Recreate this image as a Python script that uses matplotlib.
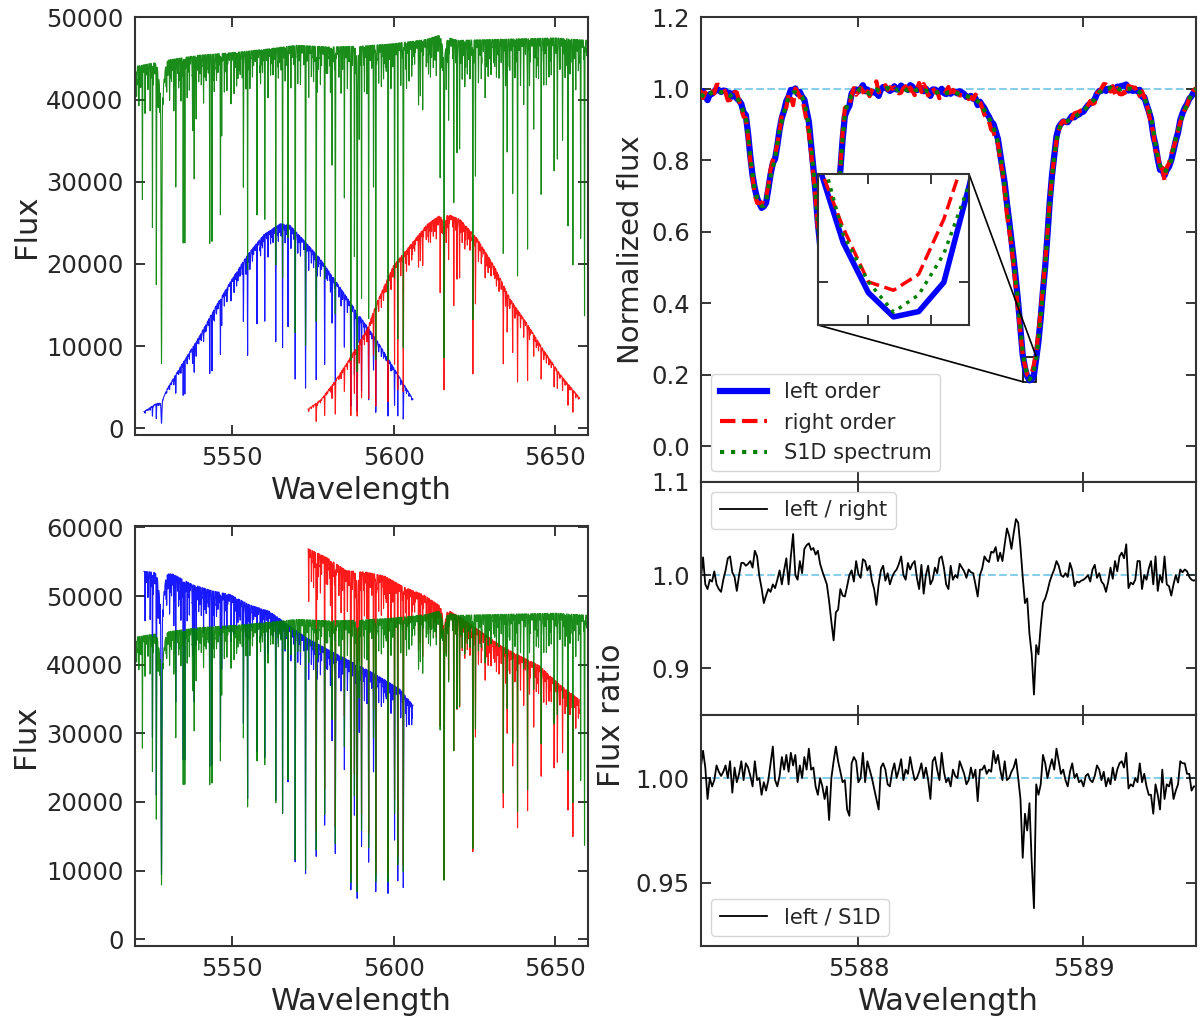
import numpy as np
import matplotlib
matplotlib.use("Agg")
import matplotlib.pyplot as plt
from matplotlib.ticker import MultipleLocator, NullFormatter, FormatStrFormatter
from mpl_toolkits.axes_grid1.inset_locator import mark_inset

plt.rcParams['font.family'] = ['DejaVu Sans']
plt.rcParams['text.color'] = '#262626'
plt.rcParams['axes.labelcolor'] = '#262626'
plt.rcParams['xtick.color'] = '#262626'
plt.rcParams['ytick.color'] = '#262626'
plt.rcParams['axes.edgecolor'] = '#333333'
plt.rcParams['axes.linewidth'] = 1.5

# ---------------- data: full spectra (left panels) ----------------
# strong absorption lines: centre, minimum flux (fraction of continuum), width
line_center = [5520.1, 5522.4, 5525.5, 5526.7, 5528.3, 5528.3, 5532.1, 5532.7, 5535.0, 5535.5,
               5537.9, 5538.4, 5539.0, 5543.2, 5543.9, 5546.5, 5546.9, 5549.8, 5551.9, 5553.6,
               5554.4, 5554.9, 5557.8, 5560.2, 5563.6, 5565.7, 5567.4, 5569.6, 5572.8, 5576.1,
               5576.4, 5578.7, 5581.0, 5582.0, 5584.8, 5586.8, 5587.9, 5588.75, 5588.75, 5589.4,
               5590.1, 5592.3, 5593.8, 5594.5, 5598.3, 5600.3, 5601.3, 5603.0, 5607.7, 5609.0,
               5611.4, 5614.4, 5615.6, 5615.6, 5617.0, 5618.6, 5619.6, 5620.4, 5624.5, 5625.3,
               5628.3, 5631.8, 5633.9, 5635.1, 5636.8, 5638.3, 5640.2, 5641.4, 5643.3, 5645.6,
               5649.6, 5650.6, 5652.2, 5653.9, 5655.4, 5657.8, 5659.0]
line_min = [0.93, 0.63, 0.55, 0.40, 0.20, 0.90, 0.86, 0.66, 0.50, 0.50,
            0.80, 0.67, 0.83, 0.50, 0.50, 0.57, 0.78, 0.90, 0.93, 0.64,
            0.90, 0.42, 0.58, 0.57, 0.43, 0.40, 0.50, 0.25, 0.22, 0.28,
            0.88, 0.40, 0.69, 0.30, 0.61, 0.18, 0.45, 0.16, 0.95, 0.76,
            0.34, 0.29, 0.64, 0.18, 0.18, 0.40, 0.24, 0.21, 0.86, 0.82,
            0.90, 0.64, 0.19, 0.95, 0.79, 0.58, 0.71, 0.72, 0.28, 0.66,
            0.86, 0.92, 0.45, 0.71, 0.62, 0.40, 0.84, 0.46, 0.78, 0.60,
            0.66, 0.69, 0.76, 0.52, 0.42, 0.50, 0.29]
line_width = [0.20, 0.05, 0.05, 0.05, 0.12, 0.70, 0.05, 0.05, 0.05, 0.05,
              0.05, 0.05, 0.05, 0.05, 0.05, 0.05, 0.05, 0.05, 0.05, 0.05,
              0.05, 0.05, 0.05, 0.05, 0.05, 0.05, 0.05, 0.06, 0.06, 0.06,
              0.05, 0.05, 0.05, 0.06, 0.05, 0.07, 0.05, 0.08, 0.30, 0.05,
              0.05, 0.05, 0.05, 0.06, 0.06, 0.05, 0.05, 0.06, 0.05, 0.05,
              0.05, 0.05, 0.08, 0.50, 0.05, 0.05, 0.05, 0.05, 0.06, 0.05,
              0.05, 0.05, 0.05, 0.05, 0.05, 0.05, 0.05, 0.05, 0.05, 0.05,
              0.05, 0.05, 0.05, 0.05, 0.05, 0.05, 0.06]
# weaker lines: centre, depth
weak_center = [5520.6, 5521.3, 5521.9, 5523.2, 5524.1, 5524.8, 5527.3, 5529.9, 5530.8, 5531.4,
               5533.6, 5534.3, 5536.2, 5536.9, 5539.8, 5540.6, 5541.3, 5542.1, 5544.6, 5545.3,
               5547.7, 5548.5, 5550.7, 5551.5, 5552.6, 5555.6, 5556.4, 5558.9, 5559.5, 5561.2,
               5562.0, 5564.4, 5566.5, 5568.3, 5570.4, 5571.2, 5573.8, 5574.6, 5575.3, 5577.4,
               5579.6, 5580.5, 5583.1, 5583.8, 5585.7, 5591.0, 5591.8, 5595.4, 5596.2, 5596.9,
               5597.6, 5599.2, 5602.2, 5604.0, 5604.8, 5605.6, 5606.5, 5608.3, 5610.1, 5610.8,
               5612.3, 5613.2, 5616.3, 5621.2, 5622.0, 5622.8, 5623.6, 5626.2, 5627.1, 5629.2,
               5630.1, 5630.9, 5632.6, 5634.6, 5635.9, 5637.5, 5639.2, 5642.0, 5644.1, 5644.8,
               5646.4, 5647.2, 5648.0, 5648.7, 5651.4, 5653.0, 5654.5, 5656.3, 5657.1]
weak_depth = [0.08, 0.10, 0.06, 0.09, 0.07, 0.12, 0.06, 0.08, 0.10, 0.06,
              0.08, 0.10, 0.07, 0.09, 0.06, 0.08, 0.12, 0.07, 0.10, 0.06,
              0.08, 0.10, 0.07, 0.09, 0.06, 0.10, 0.07, 0.09, 0.06, 0.10,
              0.07, 0.08, 0.09, 0.07, 0.10, 0.06, 0.09, 0.08, 0.06, 0.10,
              0.07, 0.12, 0.08, 0.10, 0.06, 0.12, 0.08, 0.10, 0.07, 0.09,
              0.06, 0.10, 0.08, 0.12, 0.07, 0.09, 0.06, 0.10, 0.07, 0.08,
              0.06, 0.09, 0.10, 0.09, 0.12, 0.07, 0.10, 0.08, 0.10, 0.07,
              0.09, 0.06, 0.10, 0.12, 0.08, 0.10, 0.09, 0.12, 0.10, 0.08,
              0.12, 0.09, 0.10, 0.07, 0.08, 0.10, 0.09, 0.12, 0.08]
# faint blends every 0.5 A from 5520.25 A (depths)
blend_start, blend_step = 5520.25, 0.5
blend_depth = [
    0.03, 0.05, 0.02, 0.06, 0.04, 0.02, 0.07, 0.03, 0.05, 0.02, 0.04, 0.06, 0.03, 0.02, 0.05, 0.07, 0.03, 0.04, 0.02, 0.06,
    0.04, 0.02, 0.05, 0.03, 0.07, 0.02, 0.04, 0.06, 0.03, 0.05, 0.02, 0.03, 0.06, 0.04, 0.02, 0.05, 0.03, 0.07, 0.04, 0.02,
    0.05, 0.03, 0.02, 0.06, 0.04, 0.05, 0.02, 0.03, 0.07, 0.04, 0.02, 0.05, 0.03, 0.06, 0.02, 0.04, 0.05, 0.03, 0.02, 0.06,
    0.02, 0.06, 0.04, 0.03, 0.05, 0.02, 0.07, 0.04, 0.03, 0.02, 0.05, 0.06, 0.02, 0.04, 0.03, 0.05, 0.02, 0.06, 0.04, 0.03,
    0.06, 0.03, 0.05, 0.02, 0.04, 0.07, 0.03, 0.02, 0.05, 0.04, 0.06, 0.02, 0.03, 0.05, 0.04, 0.02, 0.06, 0.03, 0.05, 0.02,
    0.03, 0.04, 0.06, 0.02, 0.05, 0.03, 0.04, 0.07, 0.02, 0.03, 0.05, 0.04, 0.02, 0.06, 0.03, 0.05, 0.02, 0.04, 0.07, 0.03,
    0.05, 0.02, 0.04, 0.06, 0.03, 0.02, 0.05, 0.04, 0.06, 0.02, 0.03, 0.07, 0.04, 0.02, 0.05, 0.03, 0.06, 0.02, 0.04, 0.05,
    0.02, 0.05, 0.03, 0.07, 0.02, 0.04, 0.06, 0.03, 0.02, 0.05, 0.04, 0.02, 0.06, 0.03, 0.05, 0.07, 0.02, 0.04, 0.03, 0.06,
    0.04, 0.03, 0.06, 0.02, 0.05, 0.04, 0.02, 0.07, 0.03, 0.05, 0.02, 0.06, 0.04, 0.03, 0.02, 0.05, 0.07, 0.03, 0.04, 0.02,
    0.06, 0.02, 0.04, 0.05, 0.03, 0.06, 0.02, 0.04, 0.03, 0.07, 0.05, 0.02, 0.03, 0.06, 0.04, 0.02, 0.05, 0.03, 0.06, 0.04,
    0.03, 0.06, 0.02, 0.04, 0.07, 0.03, 0.05, 0.02, 0.04, 0.06, 0.03, 0.02, 0.05, 0.04, 0.06, 0.03, 0.02, 0.07, 0.04, 0.05,
    0.05, 0.02, 0.07, 0.03, 0.04, 0.02, 0.06, 0.05, 0.03, 0.02, 0.04, 0.07, 0.03, 0.05, 0.02, 0.06, 0.04, 0.03, 0.05, 0.02,
    0.02, 0.04, 0.05, 0.03, 0.06, 0.02, 0.03, 0.05, 0.07, 0.04, 0.02, 0.06, 0.03, 0.04, 0.05, 0.02, 0.06, 0.04, 0.02, 0.05,
    0.04, 0.06, 0.03, 0.02, 0.05, 0.04, 0.07, 0.02, 0.03, 0.06, 0.04, 0.05, 0.02, 0.03, 0.06, 0.04, 0.02, 0.05, 0.03, 0.04]

# continuum levels
s1d_cont_wl = [5520, 5530, 5540, 5550, 5560, 5570, 5580, 5590, 5600, 5610, 5614, 5620, 5630, 5640, 5650, 5660]
s1d_cont = [44000, 44800, 45400, 45700, 46100, 46600, 46400, 46500, 46800, 47300, 47800, 47200, 47300, 47400, 47500, 47200]

left_raw_wl = [5522.9, 5526, 5528, 5530, 5535, 5540, 5545, 5550, 5555, 5560, 5565, 5568, 5572, 5577,
               5582, 5587, 5590, 5592, 5595, 5600, 5606.0]
left_raw = [2050, 2850, 3350, 4800, 8050, 11200, 14800, 18100, 21200, 23600, 24900, 24700, 23000, 20800,
            18000, 15100, 13400, 12300, 10600, 7400, 3550]
right_raw_wl = [5573.6, 5577.7, 5581.8, 5585.9, 5590, 5592, 5594.8, 5600, 5605.2, 5610.3, 5613.9, 5616.5,
                5620.6, 5625.8, 5631, 5636.1, 5641.3, 5646.4, 5651.6, 5657.4]
right_raw = [2350, 3550, 5700, 8150, 10900, 12200, 15300, 19800, 22300, 24800, 25800, 26100,
             25400, 23100, 19800, 15700, 12700, 9500, 6500, 3750]

left_corr_wl = [5522.9, 5531.8, 5537.7, 5543.7, 5549.6, 5555.6, 5561.5, 5567.5, 5573.5, 5579.4,
                5585.4, 5591.3, 5597.3, 5602.0, 5606.0]
left_corr = [53600, 53200, 51700, 50800, 50200, 48700, 47800, 45800, 43800, 42300,
             40800, 39400, 37800, 36400, 34100]
right_corr_wl = [5573.6, 5579.4, 5585.4, 5591.3, 5597.3, 5603.2, 5609.2, 5613.9, 5621.1, 5627.0,
                 5633.0, 5638.9, 5644.9, 5650.8, 5657.4]
right_corr = [56900, 55600, 53700, 53500, 52900, 51300, 50200, 48700, 46800, 44800,
              42800, 41300, 39900, 37300, 34900]

# ---------------- data: zoom around 5588 A (right panels) ----------------
zoom_start, zoom_step = 5587.30, 0.01
s1d_norm = [
    0.985, 0.980, 0.975, 0.978, 0.985, 0.990, 0.992, 0.995, 0.993, 0.990,
    0.992, 0.988, 0.985, 0.980, 0.985, 0.984, 0.975, 0.965, 0.950, 0.935,
    0.920, 0.870, 0.810, 0.760, 0.715, 0.695, 0.680, 0.672, 0.672, 0.685,
    0.720, 0.755, 0.780, 0.805, 0.845, 0.885, 0.910, 0.935, 0.955, 0.975,
    0.985, 0.990, 0.990, 0.988, 0.985, 0.978, 0.960, 0.935, 0.895, 0.840,
    0.775, 0.710, 0.630, 0.560, 0.500, 0.460, 0.440, 0.450, 0.490, 0.560,
    0.640, 0.710, 0.770, 0.860, 0.925, 0.955, 0.970, 0.980, 0.985, 0.990,
    0.995, 1.000, 0.998, 0.995, 0.990, 0.985, 0.990, 0.995, 0.998, 0.995,
    0.993, 0.998, 1.000, 1.002, 0.998, 0.995, 1.000, 0.998, 0.995, 1.000,
    1.003, 0.998, 0.995, 1.000, 1.002, 0.998, 0.996, 0.998, 0.995, 0.993,
    0.995, 0.992, 0.990, 0.990, 0.988, 0.990, 0.992, 0.988, 0.985, 0.987,
    0.990, 0.990, 0.988, 0.990, 0.987, 0.985, 0.985, 0.983, 0.980, 0.978,
    0.975, 0.972, 0.970, 0.965, 0.960, 0.950, 0.940, 0.930, 0.918, 0.905,
    0.890, 0.875, 0.850, 0.815, 0.780, 0.730, 0.680, 0.630, 0.575, 0.520,
    0.460, 0.400, 0.330, 0.265, 0.222, 0.200, 0.186, 0.194, 0.213, 0.245,
    0.295, 0.360, 0.430, 0.500, 0.590, 0.680, 0.750, 0.810, 0.855, 0.885,
    0.900, 0.905, 0.908, 0.910, 0.913, 0.918, 0.920, 0.925, 0.930, 0.935,
    0.940, 0.945, 0.952, 0.960, 0.965, 0.970, 0.980, 0.990, 0.995, 1.000,
    0.998, 1.000, 1.003, 0.998, 1.000, 1.002, 0.998, 1.000, 1.004, 1.000,
    1.000, 1.000, 0.998, 0.998, 0.995, 0.990, 0.980, 0.975, 0.960, 0.945,
    0.923, 0.885, 0.845, 0.810, 0.785, 0.770, 0.765, 0.775, 0.785, 0.800,
    0.835, 0.860, 0.880, 0.905, 0.925, 0.940, 0.955, 0.970, 0.985, 0.995,
    1.000]
ratio_left_right = [
    0.995, 1.019, 0.990, 0.985, 0.995, 0.993, 1.004, 0.990, 0.985, 0.982,
    0.995, 1.005, 1.018, 1.020, 1.003, 0.998, 0.983, 1.000, 1.013, 1.013,
    1.010, 1.012, 1.015, 1.008, 1.026, 1.020, 0.999, 0.986, 0.970, 0.978,
    0.985, 0.982, 0.990, 0.986, 0.995, 1.005, 0.990, 1.005, 1.018, 0.990,
    1.020, 1.044, 1.000, 0.995, 1.015, 1.002, 1.028, 1.032, 1.034, 1.027,
    1.029, 1.022, 1.026, 1.012, 1.004, 0.997, 0.990, 0.972, 0.950, 0.930,
    0.960, 0.963, 0.985, 0.978, 0.977, 0.988, 1.000, 1.005, 0.993, 1.015,
    1.001, 0.997, 1.017, 1.015, 1.005, 1.010, 0.994, 0.985, 0.968, 0.990,
    1.005, 1.010, 0.994, 1.002, 0.990, 0.998, 1.003, 1.006, 1.012, 1.020,
    1.000, 0.995, 1.013, 1.006, 1.012, 1.015, 0.997, 0.985, 1.011, 0.980,
    1.000, 1.010, 0.990, 0.995, 1.008, 1.002, 1.018, 1.020, 1.008, 0.990,
    0.985, 1.010, 0.995, 1.000, 0.997, 1.012, 1.008, 1.004, 0.997, 1.006,
    1.003, 1.002, 0.990, 0.977, 1.000, 1.007, 1.020, 1.016, 1.014, 1.025,
    1.024, 1.030, 1.015, 1.024, 1.015, 1.033, 1.050, 1.042, 1.028, 1.045,
    1.060, 1.056, 1.030, 0.998, 0.970, 0.975, 0.937, 0.915, 0.872, 0.925,
    0.915, 0.945, 0.970, 0.975, 0.983, 0.993, 1.000, 1.006, 1.015, 1.010,
    1.000, 0.998, 1.002, 0.998, 1.013, 1.005, 0.988, 0.993, 0.992, 0.994,
    0.995, 0.997, 1.000, 0.993, 1.006, 1.011, 0.997, 1.002, 0.993, 0.990,
    0.982, 0.993, 1.008, 0.996, 1.015, 1.004, 1.020, 1.024, 1.018, 1.033,
    0.986, 0.992, 0.990, 0.995, 1.015, 1.015, 0.985, 1.000, 0.995, 1.007,
    1.015, 0.990, 1.020, 0.983, 1.000, 0.992, 1.020, 0.990, 0.988, 0.978,
    0.990, 1.000, 0.992, 1.006, 1.003, 1.006, 1.004, 0.998, 0.995, 0.994,
    0.995]
ratio_left_s1d = [
    1.005, 1.013, 1.005, 0.990, 1.000, 0.996, 0.999, 1.006, 1.003, 1.001,
    1.003, 1.006, 1.000, 1.008, 0.993, 1.005, 0.998, 1.002, 1.008, 0.999,
    1.007, 1.005, 1.001, 0.996, 1.008, 0.999, 1.000, 0.992, 0.998, 0.994,
    0.999, 1.007, 1.015, 0.999, 0.996, 1.001, 1.010, 1.004, 1.011, 1.003,
    1.012, 1.006, 1.011, 0.998, 1.006, 1.000, 1.010, 1.004, 1.014, 1.004,
    1.005, 0.996, 0.992, 1.000, 0.996, 0.990, 0.996, 0.980, 1.000, 1.008,
    1.015, 1.008, 1.003, 0.998, 0.999, 0.985, 0.982, 1.007, 1.010, 1.008,
    0.998, 1.000, 1.012, 0.998, 1.008, 1.004, 1.000, 0.995, 0.990, 0.985,
    1.005, 1.007, 1.004, 0.997, 0.996, 1.003, 1.007, 1.000, 1.004, 1.009,
    0.999, 1.004, 1.002, 1.010, 1.004, 0.999, 1.000, 1.003, 1.007, 1.000,
    1.005, 0.999, 0.990, 1.008, 1.010, 1.004, 0.999, 1.012, 1.003, 0.998,
    1.000, 0.996, 1.004, 1.001, 1.000, 1.008, 1.005, 1.002, 0.997, 0.999,
    1.005, 1.000, 1.004, 0.989, 1.004, 1.004, 1.006, 1.002, 1.004, 1.003,
    1.013, 1.007, 1.011, 1.004, 0.999, 1.008, 0.999, 1.000, 1.003, 1.005,
    1.009, 1.000, 0.990, 0.962, 0.983, 0.975, 0.988, 0.960, 0.938, 0.997,
    0.992, 0.997, 1.011, 1.007, 1.000, 1.005, 1.009, 1.004, 1.014, 1.008,
    1.002, 1.004, 0.999, 0.996, 1.003, 1.007, 1.000, 1.002, 0.998, 0.999,
    0.996, 1.001, 1.002, 0.999, 0.998, 1.001, 1.006, 1.004, 0.999, 1.003,
    0.996, 1.000, 0.997, 1.005, 0.999, 1.004, 1.007, 1.008, 1.005, 1.012,
    0.995, 0.997, 0.996, 1.000, 0.998, 1.007, 0.998, 1.002, 0.996, 0.992,
    0.992, 0.983, 0.997, 0.992, 0.985, 1.004, 0.990, 0.997, 0.996, 1.000,
    0.990, 0.994, 0.997, 1.008, 1.007, 1.007, 1.002, 1.002, 0.994, 0.996,
    0.996]

# ---------------- build series ----------------
wl = np.arange(5520.0, 5659.8, 0.01)
lines_norm = np.ones_like(wl)
for c, r, s in zip(line_center, line_min, line_width):
    lines_norm *= 1 - (1 - r) * np.exp(-0.5 * ((wl - c) / s) ** 2)
for c, d in zip(weak_center, weak_depth):
    lines_norm *= 1 - d * np.exp(-0.5 * ((wl - c) / 0.05) ** 2)
for k, d in enumerate(blend_depth):
    c = blend_start + blend_step * k
    lines_norm *= 1 - d * np.exp(-0.5 * ((wl - c) / 0.045) ** 2)

s1d_flux = np.interp(wl, s1d_cont_wl, s1d_cont) * lines_norm
mL = (wl >= left_raw_wl[0]) & (wl <= left_raw_wl[-1])
mR = (wl >= right_raw_wl[0]) & (wl <= right_raw_wl[-1])
left_raw_flux = np.interp(wl[mL], left_raw_wl, left_raw) * lines_norm[mL]
right_raw_flux = np.interp(wl[mR], right_raw_wl, right_raw) * lines_norm[mR]
left_corr_flux = np.interp(wl[mL], left_corr_wl, left_corr) * lines_norm[mL]
right_corr_flux = np.interp(wl[mR], right_corr_wl, right_corr) * lines_norm[mR]

zwl = zoom_start + zoom_step * np.arange(len(s1d_norm))
s1d_z = np.array(s1d_norm)
left_z = s1d_z * np.array(ratio_left_s1d)
right_z = left_z / np.array(ratio_left_right)

# ---------------- figure ----------------
fig = plt.figure(figsize=(12, 10.25), dpi=100)
ax_tl = fig.add_axes([0.1122, 0.5756, 0.3776, 0.4075])
ax_bl = fig.add_axes([0.1122, 0.0771, 0.3776, 0.4097])
ax_tr = fig.add_axes([0.5840, 0.5300, 0.4127, 0.4531])
ax_mr = fig.add_axes([0.5840, 0.3024, 0.4127, 0.2276])
ax_br = fig.add_axes([0.5840, 0.0771, 0.4127, 0.2253])

TICK = dict(direction='in', top=True, right=True, length=7, width=1.3,
            labelsize=17.5, pad=8)
for ax in (ax_tl, ax_bl, ax_tr, ax_mr, ax_br):
    ax.tick_params(which='both', **TICK)

# left panels
for ax, lf, rf in ((ax_tl, left_raw_flux, right_raw_flux), (ax_bl, left_corr_flux, right_corr_flux)):
    ax.plot(wl[mL], lf, color='b', lw=0.8, alpha=0.9)
    ax.plot(wl[mR], rf, color='r', lw=0.8, alpha=0.9)
    ax.plot(wl, s1d_flux, color='g', lw=0.8, alpha=0.9)
    ax.set_xlim(5520, 5660)
    ax.xaxis.set_major_locator(MultipleLocator(50))
    ax.yaxis.set_major_locator(MultipleLocator(10000))
    ax.set_xlabel('Wavelength', fontsize=22)
    ax.set_ylabel('Flux', fontsize=22)
ax_tl.set_ylim(-800, 50000)
ax_bl.set_ylim(-980, 60200)

# top-right: normalized spectra
ax_tr.axhline(1.0, color='skyblue', ls='--', lw=1.5, zorder=1)
ax_tr.plot(zwl, left_z, color='b', lw=4.5, label='left order', zorder=2)
ax_tr.plot(zwl, right_z, color='r', ls='--', lw=3, label='right order', zorder=3)
ax_tr.plot(zwl, s1d_z, color='g', ls=':', lw=3, label='S1D spectrum', zorder=4)
ax_tr.set_xlim(5587.3, 5589.5)
ax_tr.set_ylim(-0.1, 1.2)
ax_tr.yaxis.set_major_locator(MultipleLocator(0.2))
ax_tr.xaxis.set_major_locator(MultipleLocator(1))
ax_tr.xaxis.set_major_formatter(NullFormatter())
ax_tr.set_ylabel('Normalized flux', fontsize=21)
ax_tr.legend(loc='lower left', fontsize=15, handlelength=2.3)

axins = fig.add_axes([0.6817, 0.6829, 0.1258, 0.1473])
axins.plot(zwl, left_z, color='b', lw=4)
axins.plot(zwl, right_z, color='r', ls='--', lw=2.5)
axins.plot(zwl, s1d_z, color='g', ls=':', lw=2.5)
axins.set_xlim(5588.730, 5588.790)
axins.set_ylim(0.18, 0.25)
axins.set_xticks([5588.75, 5588.775])
axins.set_yticks([0.2])
axins.tick_params(direction='in', length=7, width=1.3, labelbottom=False, labelleft=False,
                  top=True, right=True)
for sp in axins.spines.values():
    sp.set_color('#333333')
    sp.set_linewidth(1.5)
mark_inset(ax_tr, axins, loc1=1, loc2=3, fc='none', ec='k', lw=1.2)

# middle-right: left / right ratio
ax_mr.axhline(1.0, color='skyblue', ls='--', lw=1.5, zorder=1)
ax_mr.plot(zwl, ratio_left_right, color='k', lw=1.3, label='left / right')
ax_mr.set_xlim(5587.3, 5589.5)
ax_mr.set_ylim(0.85, 1.1)
ax_mr.yaxis.set_major_locator(MultipleLocator(0.1))
ax_mr.xaxis.set_major_locator(MultipleLocator(1))
ax_mr.xaxis.set_major_formatter(NullFormatter())
ax_mr.legend(loc='upper left', fontsize=15, handlelength=2.3)

# bottom-right: left / S1D ratio
ax_br.axhline(1.0, color='skyblue', ls='--', lw=1.5, zorder=1)
ax_br.plot(zwl, ratio_left_s1d, color='k', lw=1.3, label='left / S1D')
ax_br.set_xlim(5587.3, 5589.5)
ax_br.set_ylim(0.92, 1.03)
ax_br.yaxis.set_major_locator(MultipleLocator(0.05))
ax_br.yaxis.set_major_formatter(FormatStrFormatter('%.2f'))
ax_br.xaxis.set_major_locator(MultipleLocator(1))
ax_br.set_xlabel('Wavelength', fontsize=22)
ax_br.legend(loc='lower left', fontsize=15, handlelength=2.3)

fig.text(612 / 1200, 1 - 715 / 1025, 'Flux ratio', rotation=90, fontsize=22,
         ha='center', va='center', color='#262626')

fig.savefig('out.png', dpi=100)
